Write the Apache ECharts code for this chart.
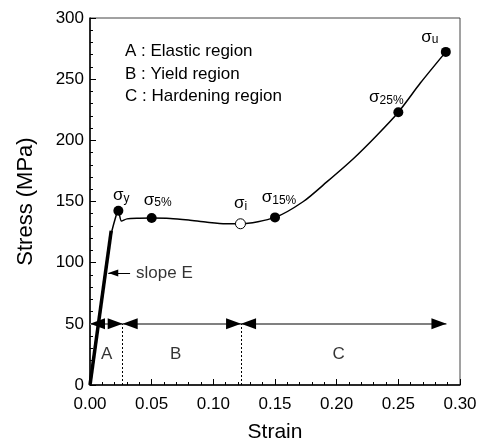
<!DOCTYPE html>
<html>
<head>
<meta charset="utf-8">
<script src="https://cdn.jsdelivr.net/npm/echarts@6/dist/echarts.min.js"></script>
<style>
  html, body { margin: 0; padding: 0; background: #fff; }
  #chart { width: 483px; height: 448px; }
</style>
</head>
<body>
<div id="chart"></div>
<script>
// stress-strain curve
const curveStrain = [0, 0.0165, 0.021, 0.023, 0.0255, 0.030, 0.040, 0.050, 0.065, 0.080, 0.095, 0.110, 0.122, 0.150, 0.173, 0.192, 0.2135, 0.2325, 0.250, 0.268, 0.2885];
const curveStress = [0, 120, 138, 142.5, 134, 135.8, 136.3, 136.5, 136.2, 134.8, 133, 131.8, 131.8, 137, 150, 166, 185, 204, 223, 247, 272.3];

// thick elastic segment
const elasticStrain = [0, 0.0172];
const elasticStress = [0, 126];

// marked stresses
const markStrain = [0.023, 0.05, 0.122, 0.15, 0.25, 0.2885];
const markStress = [142.5, 136.5, 131.8, 137, 223, 272.3];
const markSub = ['y', '5%', 'i', '15%', '25%', 'u'];
const markOpen = [false, false, true, false, false, false];

// regions
const regionNames = ['A', 'B', 'C'];
const regionStart = [0, 0.0265, 0.1225];
const regionEnd = [0.0265, 0.1225, 0.289];
const regionLevel = 50;
const regionLabelStrain = [0.0135, 0.0695, 0.2015];
const regionLabelStress = 25;
const legendLines = ['A : Elastic region', 'B : Yield region', 'C : Hardening region'];

// slope arrow
const slopeTail = [0.0325, 91.6];
const slopeTip = [0.0148, 91.6];
const slopeText = 'slope E';

const xTicks = { min: 0, max: 0.3, step: 0.05 };
const yTicks = { min: 0, max: 300, step: 50 };

const font = 'Liberation Sans, Arial, sans-serif';

// label placement for each sigma point: [dx, distance]
const markLabelPos = [[3, 1], [6, 4], [0, 6], [4, 6], [-12, 1], [-16, 1]];

const chart = echarts.init(document.getElementById('chart'));

const markData = markStrain.map((x, i) => ({
  value: [x, markStress[i]],
  itemStyle: markOpen[i]
    ? { color: '#fff', borderColor: '#000', borderWidth: 1, opacity: 1 }
    : { color: '#000', opacity: 1 },
  label: {
    offset: [markLabelPos[i][0], 0],
    distance: markLabelPos[i][1],
    formatter: '{s|σ}{sub|' + markSub[i] + '}'
  }
}));

const arrowLines = regionNames.map((n, i) => [
  { coord: [regionStart[i], regionLevel] },
  { coord: [regionEnd[i], regionLevel] }
]);

const dottedLines = regionEnd.slice(0, 2).map(x => [
  { coord: [x, 0] },
  { coord: [x, regionLevel] }
]);

const option = {
  animation: false,
  backgroundColor: '#fff',
  textStyle: { fontFamily: font },
  grid: {
    left: 90, right: 23, top: 18, bottom: 60,
    show: true, borderColor: '#444', borderWidth: 1
  },
  xAxis: {
    type: 'value',
    min: xTicks.min, max: xTicks.max, interval: xTicks.step,
    name: 'Strain',
    nameLocation: 'middle',
    nameGap: 37,
    nameTextStyle: { fontSize: 21, color: '#000', fontFamily: font },
    axisLine: { lineStyle: { color: '#000', width: 1.5 } },
    axisTick: { inside: true, length: 6, lineStyle: { color: '#000', width: 1 } },
    minorTick: { show: true, splitNumber: 5, length: 3, lineStyle: { color: '#000', width: 1 } },
    splitLine: { show: false },
    axisLabel: {
      margin: 11, fontSize: 17, color: '#000', fontFamily: font,
      formatter: v => v.toFixed(2)
    }
  },
  yAxis: {
    type: 'value',
    min: yTicks.min, max: yTicks.max, interval: yTicks.step,
    name: 'Stress (MPa)',
    nameLocation: 'middle',
    nameGap: 53,
    nameTextStyle: { fontSize: 22, color: '#000', fontFamily: font },
    axisLine: { lineStyle: { color: '#000', width: 1.5 } },
    axisTick: { inside: true, length: 6, lineStyle: { color: '#000', width: 1 } },
    minorTick: { show: true, splitNumber: 5, length: 3, lineStyle: { color: '#000', width: 1 } },
    splitLine: { show: false },
    axisLabel: { margin: 6, fontSize: 17, color: '#000', fontFamily: font }
  },
  graphic: legendLines.map((t, i) => ({
    type: 'text',
    left: 125,
    top: 43 + i * 22.5,
    style: { text: t, fontSize: 17, fill: '#000', fontFamily: font }
  })),
  series: [
    {
      name: 'shafts',
      type: 'line',
      data: [],
      silent: true,
      markLine: {
        silent: true,
        symbol: ['none', 'none'],
        label: { show: false },
        lineStyle: { color: '#808080', width: 2, type: 'solid' },
        data: arrowLines
      }
    },
    {
      name: 'heads',
      type: 'line',
      data: [],
      silent: true,
      markLine: {
        silent: true,
        symbol: ['triangle', 'triangle'],
        symbolSize: [11, 15],
        symbolOffset: [[0, 7.5], [0, 7.5]],
        label: { show: false },
        lineStyle: { color: '#000', width: 0 },
        data: arrowLines
      }
    },
    {
      name: 'dividers',
      type: 'line',
      data: [],
      silent: true,
      markLine: {
        silent: true,
        symbol: ['none', 'none'],
        label: { show: false },
        lineStyle: { color: '#000', width: 1, type: [2, 2] },
        data: dottedLines
      }
    },
    {
      name: 'slope',
      type: 'line',
      data: [],
      silent: true,
      markLine: {
        silent: true,
        symbol: ['none', 'triangle'],
        symbolSize: [7, 10],
        symbolOffset: [[0, 0], [0, 5]],
        label: { show: false },
        lineStyle: { color: '#000', width: 1, type: 'solid' },
        data: [[{ coord: slopeTail }, { coord: slopeTip }]]
      }
    },
    {
      name: 'elastic',
      type: 'line',
      data: elasticStrain.map((x, i) => [x, elasticStress[i]]),
      showSymbol: false,
      lineStyle: { color: '#000', width: 3.5 },
      silent: true
    },
    {
      name: 'curve',
      type: 'line',
      data: curveStrain.map((x, i) => [x, curveStress[i]]),
      showSymbol: false,
      smooth: 0.25,
      lineStyle: { color: '#000', width: 1.5 },
      silent: true
    },
    {
      name: 'marks',
      type: 'scatter',
      symbolSize: 10,
      data: markData,
      silent: true,
      z: 5,
      label: {
        show: true,
        position: 'top',
        color: '#000',
        rich: {
          s: { fontSize: 17, lineHeight: 18, fontFamily: font, color: '#000' },
          sub: { fontSize: 12, lineHeight: 12, verticalAlign: 'bottom', fontFamily: font, color: '#000' }
        }
      }
    },
    {
      name: 'regions',
      type: 'scatter',
      symbolSize: 0,
      silent: true,
      data: regionLabelStrain.map((x, i) => ({ value: [x, regionLabelStress], name: regionNames[i] })),
      label: {
        show: true, position: 'inside', formatter: '{b}',
        fontSize: 17, color: '#000', fontFamily: font
      }
    },
    {
      name: 'slopeText',
      type: 'scatter',
      symbolSize: 0,
      silent: true,
      data: [{ value: slopeTail, name: slopeText }],
      label: {
        show: true, position: 'right', distance: 6, formatter: '{b}',
        fontSize: 17, color: '#000', fontFamily: font
      }
    }
  ]
};

chart.setOption(option);
</script>
</body>
</html>
